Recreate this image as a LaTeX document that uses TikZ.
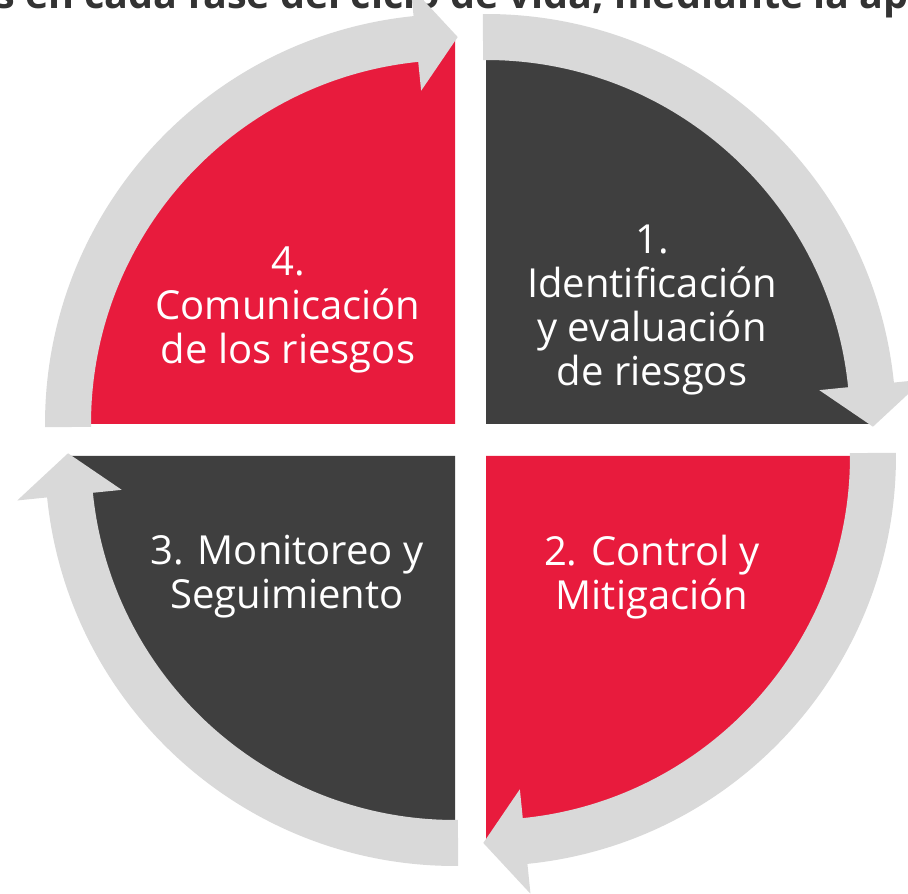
\documentclass[tikz,border=0pt]{standalone}
\usepackage{fontspec}
\setmainfont{Open Sans}
\usetikzlibrary{calc}
\definecolor{qdark}{HTML}{3F3F3F}
\definecolor{qred}{HTML}{E81B3D}
\definecolor{qgray}{HTML}{D9D9D9}
\definecolor{toptext}{HTML}{333333}
\begin{document}
\begin{tikzpicture}[x=1pt,y=1pt,
  pietext/.style={text=white, font=\fontsize{40}{44}\selectfont, align=center, inner sep=0pt},
  headtext/.style={anchor=base west, inner sep=0pt, text=toptext, font=\bfseries\fontsize{39.5}{44}\selectfont}]
\useasboundingbox (0,0) rectangle (908,894);
\clip (0,0) rectangle (908,894);
\fill[white] (0,0) rectangle (908,894);
\node[headtext] (header) at (-5,885) {s en cada fase del ciclo de vida, mediante la ap};
\coordinate (c1) at (486,470);
\coordinate (c2) at (486,438);
\coordinate (c3) at (455,438);
\coordinate (c4) at (455,470);
\fill[qdark] (c1) -- ++(90:386) arc[start angle=90, end angle=0, radius=386] -- cycle;
\fill[qred] (c2) -- ++(0:386) arc[start angle=0, end angle=-90, radius=386] -- cycle;
\fill[qdark] (c3) -- ++(-90:386) arc[start angle=-90, end angle=-180, radius=386] -- cycle;
\fill[qred] (c4) -- ++(180:386) arc[start angle=180, end angle=90, radius=386] -- cycle;
\foreach \c/\s in {c1/90, c2/0, c3/-90, c4/180} {
  \pgfmathsetmacro\aS{\s+0.45}
  \pgfmathsetmacro\aB{\s-84.2}
  \pgfmathsetmacro\aT{\s-90.4}
  \fill[qgray] ($(\c)+(\aS:410)$) arc[start angle=\aS, end angle=\aB, radius=410]
    -- ($(\c)+(\aB:440)$) -- ($(\c)+(\aT:387)$) -- ($(\c)+(\aB:335)$) -- ($(\c)+(\aB:364)$)
    arc[start angle=\aB, end angle=\aS, radius=364] -- cycle;
}
\node[pietext] (t1) at (652,584) {1.\\Identificación\\y evaluación\\de riesgos};
\node[pietext] (t2) at (652,317) {2. Control y\\Mitigación};
\node[pietext] (t3) at (287,317) {3. Monitoreo y\\Seguimiento};
\node[pietext] (t4) at (288,584) {4.\\Comunicación\\de los riesgos};
\end{tikzpicture}
\end{document}
